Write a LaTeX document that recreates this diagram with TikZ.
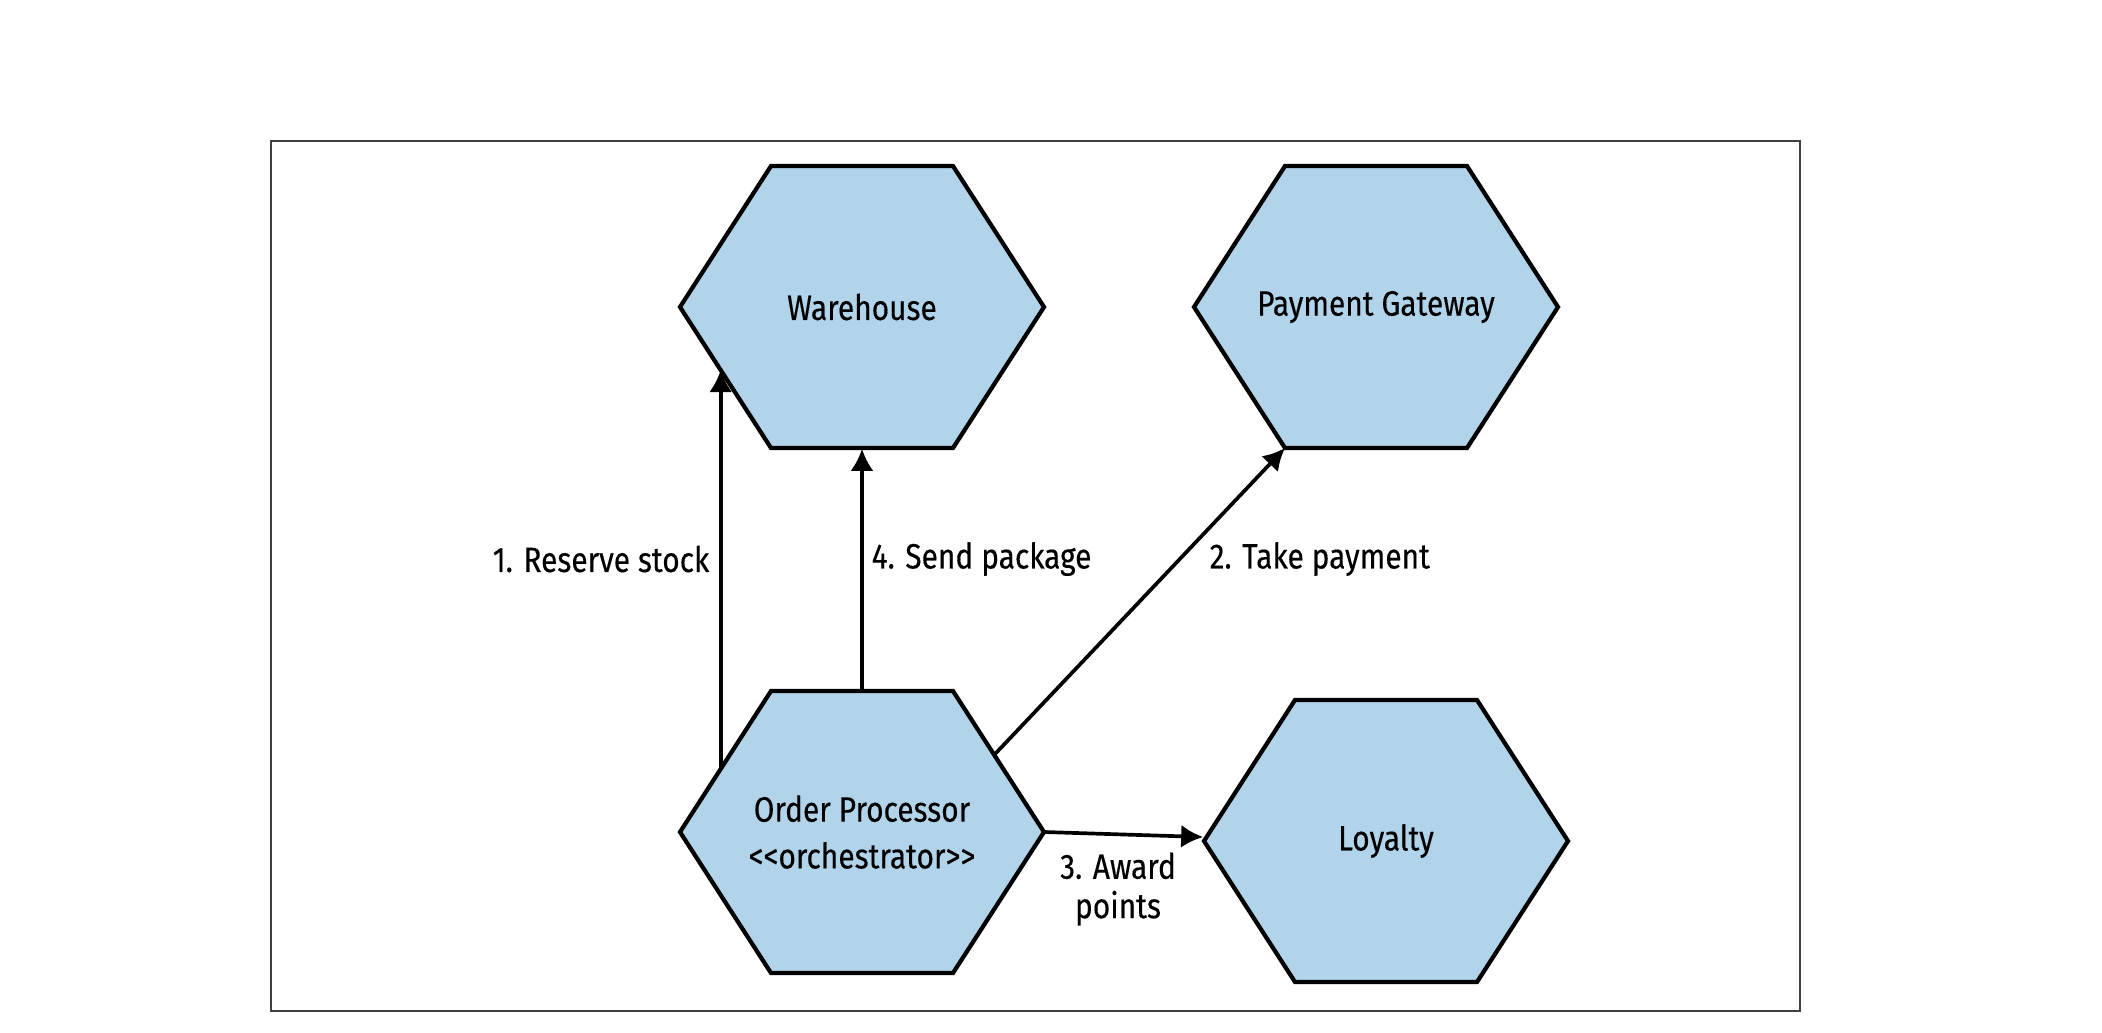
\documentclass[tikz,border=0pt]{standalone}
\usepackage{fontspec}
\setmainfont{Fira Sans}[FakeStretch=0.85,FakeBold=0.3]
\usetikzlibrary{arrows.meta,positioning,calc}
\definecolor{hexblue}{RGB}{177,212,234}
\tikzset{
  hexbox/.style={fill=hexblue,draw=black,line width=1.2pt},
  hextext/.style={inner sep=0pt,minimum width=3.64cm,minimum height=2.82cm,align=center,font=\fontsize{10}{13.3}\selectfont},
  lbl/.style={inner sep=0pt,align=center,font=\fontsize{10}{11.2}\selectfont},
  arr/.style={-{Latex[length=2.2mm,width=2.3mm]},line width=1.05pt},
  frame/.style={draw=black!75,line width=0.5pt}
}
% hexagon: name, centre, text
\newcommand\hexnode[3]{%
\path (#2) +(182,0) coordinate (#1-e) +(91,-141) coordinate (#1-ne) %%
  +(-91,-141) coordinate (#1-nw) +(-182,0) coordinate (#1-w) %%
  +(-91,141) coordinate (#1-sw) +(91,141) coordinate (#1-se); %%
\filldraw[hexbox] (#1-e) -- (#1-ne) -- (#1-nw) -- (#1-w) -- (#1-sw) -- (#1-se) -- cycle; %%
\node[hextext] (#1) at (#2) {#3}; %%
}

\begin{document}
\begin{tikzpicture}[x=0.01cm,y=-0.01cm]%
\useasboundingbox (0,0) rectangle (2102,1032);
\draw[frame] (271,141) rectangle (1800,1011);
\hexnode{wh}{862,307}{Warehouse} %%
\hexnode{pg}{1376,307}{Payment Gateway} %%
\hexnode{op}{862,832}{Order Processor\\{<}{<}orchestrator{>}{>}} %%
\hexnode{loy}{1386,841}{Loyalty} %%

\coordinate (r1) at ($(op-w)!.447!(op-nw)$); %%
\coordinate (r2) at ($(wh-w)!.447!(wh-sw)$); %%
\coordinate (p1) at ($(op-e)!.547!(op-ne)$); %%
\draw[arr] (r1) -- (r1 |- r2); %%
\draw[arr] (op.east) -- ($(loy.west)+(0,-4)$); %%
\draw[arr] (op.north) -- (wh.south); %%
\draw[arr] (p1) -- (pg-sw); %%

\node[lbl,anchor=east] (l1) at (710,559) {1. Reserve stock}; %%
\node[lbl,anchor=west] (l4) at (871,559) {4. Send package}; %%
\node[lbl,anchor=west] (l2) at (1209,559) {2. Take payment}; %%
\node[lbl] (l3) at (1118,889) {3. Award\\points}; %%
\end{tikzpicture}
\end{document}
